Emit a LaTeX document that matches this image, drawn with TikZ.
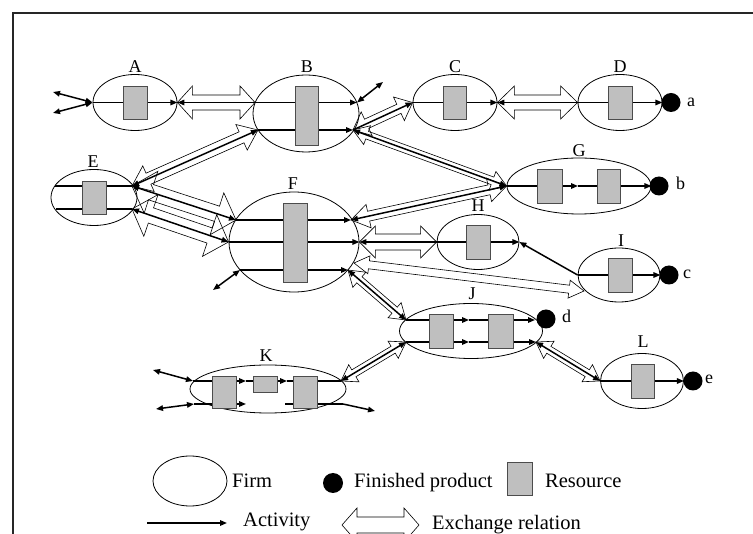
\documentclass[tikz,border=0pt]{standalone}
\usepackage{fontspec}
\setmainfont{Liberation Serif}
\usetikzlibrary{shapes.geometric, arrows.meta, calc}

\tikzset{
  >={Triangle[length=7pt,width=5.5pt]},
  firm/.style={draw, ellipse, line width=0.8pt, inner sep=0pt},
  res/.style={draw=black!70, fill=black!25, line width=0.8pt, inner sep=0pt},
  prod/.style={circle, fill=black, inner sep=0pt, minimum size=19pt},
  actline/.style={line width=1.5pt},
  xarr/.style={draw, line width=0.6pt, line join=miter},
  lbl/.style={anchor=base, inner sep=0pt, font=\fontsize{18}{20}\selectfont},
  lgd/.style={anchor=base west, inner sep=0pt, font=\fontsize{20.5}{22}\selectfont}
}

% hollow exchange arrow: from, to, shaft half width, head half width, head length
\newcommand\xrel[5]{%
  \draw[xarr] let \p1=(#1), \p2=(#2), \n1={atan2(\y2-\y1,\x2-\x1)}, \n2={veclen(\x2-\x1,\y2-\y1)} in
    [shift={(\p1)}, rotate=\n1]
    (0pt,0pt) -- (#5pt,#4pt) -- (#5pt,#3pt) -- (\n2-#5pt,#3pt) -- (\n2-#5pt,#4pt) -- (\n2,0pt)
    -- (\n2-#5pt,-#4pt) -- (\n2-#5pt,-#3pt) -- (#5pt,-#3pt) -- (#5pt,-#4pt) -- cycle;}

\begin{document}
\begin{tikzpicture}[x=1pt, y=-1pt]
    \useasboundingbox (0,0) rectangle (753,534);
    \draw[line width=1.2pt, black!85] (13,534) -- (13,13) -- (753,13);

    % firms
    \node[firm, minimum width=84pt, minimum height=56pt] (A) at (135,102.5) {};
    \node[firm, minimum width=106pt, minimum height=77pt] (B) at (306,113.5) {};
    \node[firm, minimum width=84pt, minimum height=56pt] (C) at (455,102.5) {};
    \node[firm, minimum width=84pt, minimum height=56pt] (D) at (620,102.5) {};
    \node[firm, minimum width=86pt, minimum height=56pt] (E) at (94,197.5) {};
    \node[firm, minimum width=130pt, minimum height=100pt] (F) at (294,242) {};
    \node[firm, minimum width=144pt, minimum height=56pt] (G) at (579,186) {};
    \node[firm, minimum width=82pt, minimum height=55pt] (H) at (478,242) {};
    \node[firm, minimum width=82pt, minimum height=54pt] (I) at (619,275) {};
    \node[firm, minimum width=143pt, minimum height=55pt] (J) at (471,331) {};
    \node[firm, minimum width=156pt, minimum height=48pt] (K) at (268,389) {};
    \node[firm, minimum width=83pt, minimum height=55pt] (L) at (642,381) {};

    \node[lbl] (lA) at (135,72.7) {A};
    \node[lbl] (lB) at (307,72.7) {B};
    \node[lbl] (lC) at (455,72.7) {C};
    \node[lbl] (lD) at (620,72.7) {D};
    \node[lbl] (lE) at (93,168) {E};
    \node[lbl] (lF) at (293,190) {F};
    \node[lbl] (lG) at (579,157) {G};
    \node[lbl] (lH) at (478,212) {H};
    \node[lbl] (lI) at (621,247) {I};
    \node[lbl] (lJ) at (472,300) {J};
    \node[lbl] (lK) at (266,362) {K};
    \node[lbl] (lL) at (643,348) {L};

    % line ends
    \coordinate (B1w) at (255,102.5); \coordinate (B1e) at (357,102.5);
    \coordinate (B2w) at (258,130);   \coordinate (B2e) at (353,130);
    \coordinate (E1w) at (55,186);    \coordinate (E1e) at (132,186);
    \coordinate (E2w) at (56,209);    \coordinate (E2e) at (132,209);
    \coordinate (F1w) at (236,220);   \coordinate (F1e) at (351,220);
    \coordinate (F3w) at (240,270);   \coordinate (F3e) at (348,270);
    \coordinate (Fse) at (354,263);   \coordinate (Isw) at (584,291);
    \coordinate (Gm) at (578,186);
    \coordinate (J1w) at (406,320);   \coordinate (J1m) at (469,320);   \coordinate (J1e) at (535,320);
    \coordinate (J2w) at (406,342);   \coordinate (J2m) at (469,342);   \coordinate (J2e) at (536,342);
    \coordinate (K1w) at (193,381);   \coordinate (K1a) at (246,381);
    \coordinate (K1b) at (287,381);   \coordinate (K1e) at (341,381);
    \coordinate (K2w) at (194,404);   \coordinate (K2a) at (246,404);
    \coordinate (K2b) at (285,404);   \coordinate (K2e) at (343,404);

    % activities
    \draw[actline, ->] (A.west) -- (A.east);
    \draw[actline, ->] (B1w) -- (B1e);
    \draw[actline, ->] (B2w) -- (B2e);
    \draw[actline, ->] (C.west) -- (C.east);
    \draw[actline, ->] (D.west) -- (D.east);
    \draw[actline] (E1w) -- (E1e);
    \draw[actline] (E2w) -- (E2e);
    \draw[actline, ->] (F1w) -- (F1e);
    \draw[actline, ->] (F.west) -- (F.east);
    \draw[actline, ->] (F3w) -- (F3e);
    \draw[actline, ->] (G.west) -- (Gm);
    \draw[actline, ->] (Gm) -- (G.east);
    \draw[actline, ->] (H.west) -- (H.east);
    \draw[actline, ->] (I.west) -- (I.east);
    \draw[actline, ->] (J1w) -- (J1m);
    \draw[actline, ->] (J1m) -- (J1e);
    \draw[actline, ->] (J2w) -- (J2m);
    \draw[actline, ->] (J2m) -- (J2e);
    \draw[actline, ->] (K1w) -- (K1a);
    \draw[actline, ->] (K1a) -- (K1b);
    \draw[actline] (K1b) -- (K1e);
    \draw[actline, ->] (K2w) -- (K2a);
    \draw[actline] (K2b) -- (K2e);
    \draw[actline, ->] (L.west) -- (L.east);

    % outside activities
    \coordinate (xA1) at (53,92);  \coordinate (xA2) at (53,113);
    \coordinate (xB) at (383,82);  \coordinate (xF) at (213,290);
    \coordinate (xK1) at (153,370); \coordinate (xK2) at (156,409); \coordinate (xK3) at (375,411);
    \draw[actline, <->] (xA1) -- (A.west);
    \draw[actline, <->] (xA2) -- (A.west);
    \draw[actline, <->] (B1e) -- (xB);
    \draw[actline, <->] (F3w) -- (xF);
    \draw[actline, <->] (xK1) -- (K1w);
    \draw[actline, <->] (xK2) -- (K2w);
    \draw[actline, ->] (K2e) -- (xK3);

    % resources
    \node[res, minimum width=24pt, minimum height=33pt] (rA) at (135,102.5) {};
    \node[res, minimum width=23pt, minimum height=59pt] (rB) at (306.5,115.5) {};
    \node[res, minimum width=23pt, minimum height=33pt] (rC) at (454.5,102.5) {};
    \node[res, minimum width=24pt, minimum height=33pt] (rD) at (620,102.5) {};
    \node[res, minimum width=24pt, minimum height=33pt] (rE) at (94,197.5) {};
    \node[res, minimum width=24pt, minimum height=79pt] (rF) at (295,242.5) {};
    \node[res, minimum width=25pt, minimum height=34pt] (rG1) at (549.5,186) {};
    \node[res, minimum width=23pt, minimum height=34pt] (rG2) at (608.5,186) {};
    \node[res, minimum width=24pt, minimum height=34pt] (rH) at (478,242) {};
    \node[res, minimum width=24pt, minimum height=34pt] (rI) at (620,275) {};
    \node[res, minimum width=24pt, minimum height=34pt] (rJ1) at (441,331) {};
    \node[res, minimum width=25pt, minimum height=34pt] (rJ2) at (500.5,331) {};
    \node[res, minimum width=24pt, minimum height=32pt] (rK1) at (224,392) {};
    \node[res, minimum width=24pt, minimum height=16pt] (rK2) at (265,384) {};
    \node[res, minimum width=24pt, minimum height=32pt] (rK3) at (305,392) {};
    \node[res, minimum width=23pt, minimum height=34pt] (rL) at (642.5,381) {};

    % finished products
    \node[prod] (pa) at (671,102.5) {};
    \node[prod] (pb) at (659,186) {};
    \node[prod] (pc) at (669,275) {};
    \node[prod] (pd) at (546,319) {};
    \node[prod] (pe) at (693,381) {};
    \node[lbl, anchor=base west] (ta) at (687,107) {a};
    \node[lbl, anchor=base west] (tb) at (676,190) {b};
    \node[lbl, anchor=base west] (tc) at (683,279) {c};
    \node[lbl, anchor=base west] (td) at (562,323) {d};
    \node[lbl, anchor=base west] (te) at (705,384) {e};

    % exchange relations
    \xrel{A.east}{B1w}{7.5}{16.5}{15}
    \draw[actline, ->] (B1w) -- (A.east);
    \xrel{B2e}{C.west}{5}{13}{15}
    \draw[actline, ->] (B2e) -- (C.west);
    \xrel{C.east}{D.west}{7.5}{16.5}{17}
    \draw[actline, ->] (D.west) -- (C.east);
    \xrel{B2e}{G.west}{4}{10}{15}
    \draw[actline, <->] (B2e) -- (G.west);
    \xrel{E1e}{B2w}{6}{14}{18}
    \draw[actline, <->] (E1e) -- (B2w);
    \xrel{E1e}{F1w}{8}{22}{20}
    \draw[actline, <->] (E1e) -- (F1w);
    \xrel{E2e}{F.west}{8}{22}{20}
    \draw[actline, <->] (E2e) -- (F.west);
    \xrel{G.west}{F1e}{5}{12}{18}
    \draw[actline, <->] (G.west) -- (F1e);
    \xrel{F.east}{H.west}{8}{16}{16}
    \draw[actline, ->] (H.west) -- (F.east);
    \draw[actline, ->] (I.west) -- (H.east);
    \xrel{Isw}{Fse}{4}{9}{15}
    \xrel{F3e}{J1w}{4}{10}{15}
    \draw[actline, <->] (F3e) -- (J1w);
    \xrel{K1e}{J2w}{4}{10}{15}
    \draw[actline, <->] (K1e) -- (J2w);
    \xrel{J2e}{L.west}{4}{10}{15}
    \draw[actline, <->] (J2e) -- (L.west);

    % legend
    \node[firm, minimum width=74pt, minimum height=50pt] (lgF) at (190,481) {};
    \node[lgd] (tF) at (232,488) {Firm};
    \node[prod, minimum size=20pt] (lgP) at (333,483) {};
    \node[lgd] (tP) at (354,488) {Finished product};
    \node[res, minimum width=25pt, minimum height=33pt] (lgR) at (519.5,478.5) {};
    \node[lgd] (tR) at (545,488) {Resource};
    \coordinate (lgA1) at (147,523); \coordinate (lgA2) at (227,523);
    \draw[actline, ->] (lgA1) -- (lgA2);
    \node[lgd] (tA) at (243,527) {Activity};
    \coordinate (lgX1) at (342,525); \coordinate (lgX2) at (419,525);
    \xrel{lgX1}{lgX2}{8}{17}{15}
    \node[lgd] (tX) at (432,530) {Exchange relation};
\end{tikzpicture}
\end{document}
